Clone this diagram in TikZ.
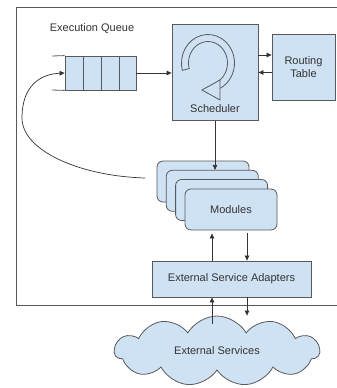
\documentclass[tikz,border=0pt]{standalone}
\usepackage{fontspec}
\setmainfont{Liberation Sans}
\usetikzlibrary{arrows.meta,positioning,shapes.symbols}
\definecolor{boxblue}{HTML}{CFE2F3}
\definecolor{boxline}{HTML}{595959}
\definecolor{txtgray}{HTML}{333333}
\begin{document}
\begin{tikzpicture}[x=1pt,y=-1pt,
    font=\fontsize{11}{13}\selectfont,text=txtgray,
    box/.style={draw=boxline,fill=boxblue,line width=0.8pt,inner sep=0pt},
    modbox/.style={box,rounded corners=6pt,minimum width=92pt,minimum height=41pt},
    conn/.style={-{Triangle[length=5pt,width=4.5pt]},line width=0.7pt,draw=txtgray}]
  \useasboundingbox (0,0) rectangle (337,388);
  \clip (0,0) rectangle (337,388);
  \draw[boxline,line width=0.8pt] (16,7) rectangle (345,305);
  \node (title) at (92,29) {Execution Queue};
  % queue
  \node[box,minimum width=71pt,minimum height=34pt] (queue) at (100.5,73) {};
  \foreach \x in {83,101,119} \draw[boxline,line width=0.8pt] (\x,56) -- (\x,90);
  \draw[boxline,line width=0.8pt] (52,56) -- (queue.north west);
  \draw[boxline,line width=0.8pt] (52,90) -- (queue.south west);
  % scheduler with its loop icon
  \node[box,minimum width=86pt,minimum height=96pt] (sched) at (215,72.5) {};
  \node (schedtxt) at (215,109) {Scheduler};
  \filldraw[draw=boxline,fill=boxblue,line width=0.8pt] (208,63) ++(165:26.5 and 28.5)
    arc[start angle=165,end angle=425,x radius=26.5,y radius=28.5] -- ++(245:7)
    arc[start angle=425,end angle=165,x radius=19.5,y radius=21.5] -- cycle;
  \filldraw[draw=boxline,fill=boxblue,line width=0.8pt] (202,90) -- (220,80) -- (220,100) -- cycle;
  \node[box,minimum width=63pt,minimum height=66pt,align=center] (route) at (303.5,67) {Routing\\Table};
  % modules
  \foreach \i/\x/\y in {1/203/181.5,2/212.3/190.8,3/221.6/200,4/231/209.5}
    \node[modbox] (mod\i) at (\x,\y) {};
  \node (modtxt) at (mod4) {Modules};
  \node[box,minimum width=159pt,minimum height=36pt] (adapt) at (231.5,279) {External Service Adapters};
  \node[cloud,cloud puffs=11,cloud puff arc=120,aspect=3,draw=boxline,fill=boxblue,
    line width=0.8pt,minimum width=205pt,minimum height=70pt,inner sep=0pt] (ext) at (217,351) {External Services};
  % connectors
  \coordinate (fb) at (145,178);
  \coordinate (upper) at (0,55);
  \coordinate (up) at (212,0);
  \coordinate (down) at (247,0);
  \draw[conn] (queue.east) -- (queue.east -| sched.west);
  \draw[conn] (sched.east |- upper) -- (route.west |- upper);
  \draw[conn] (route.west |- sched.east) -- (sched.east);
  \draw[conn] (sched.south) -- (sched.south |- mod2.north);
  \draw[conn] (fb) .. controls (78,176) and (22,150) .. (22,118) .. controls (22,84) and (42,74) .. (queue.west);
  \draw[conn,shorten >=3pt] (adapt.north -| up) -- (mod4.south -| up);
  \draw[conn,shorten <=3pt] (mod4.south -| down) -- (adapt.north -| down);
  \draw[conn] (ext.north -| up) ++(0,8) -- (adapt.south -| up);
  \draw[conn] (adapt.south -| down) -- (ext.north -| down);
\end{tikzpicture}
\end{document}
